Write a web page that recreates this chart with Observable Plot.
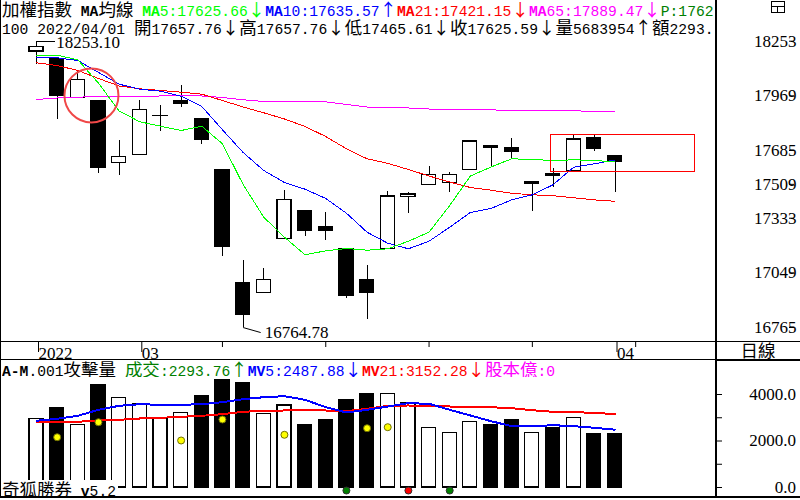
<!DOCTYPE html>
<html><head><meta charset="utf-8">
<script src="https://cdn.jsdelivr.net/npm/d3@7"></script>
<script src="https://cdn.jsdelivr.net/npm/@observablehq/plot@0.6"></script>
<style>
html,body{margin:0;padding:0;background:#fff;}
#root{position:relative;width:800px;height:500px;overflow:hidden;background:#fff;color:#000;}
.row{position:absolute;left:2px;white-space:nowrap;overflow:hidden;font-family:"Liberation Mono",monospace;font-size:14.67px;}
.cjk{font-family:"Noto Sans CJK TC",sans-serif;font-size:17.5px;}
.arr{display:inline-block;width:17.5px;text-align:center;font-family:"Noto Sans CJK TC",sans-serif;font-size:17px;}
.ln{position:absolute;background:#000;}
.pane{position:absolute;left:0;line-height:0;}
.vlab{position:absolute;left:716px;width:80px;height:17px;line-height:17px;text-align:right;font-family:"Liberation Serif",serif;font-size:17px;color:#000;z-index:10;white-space:nowrap;}
</style></head>
<body><div id="root">
<div class="row" id="hdr1" style="top:0;width:712px;height:18px;line-height:18px;"></div>
<div class="row" id="hdr2" style="top:18px;width:712px;height:18px;line-height:18px;"></div>
<div class="pane" id="price" style="top:36px;"></div>
<div class="row" id="hdr3" style="top:360px;width:712px;height:17px;line-height:17px;"></div>
<div id="dayLabel" style="position:absolute;left:716px;top:341px;width:84px;height:18px;line-height:18px;text-align:center;" class="cjk"></div>
<!-- frame lines -->
<div class="ln" style="left:0;top:0;width:1px;height:498px;"></div>
<div class="ln" style="left:715px;top:0;width:2px;height:498px;"></div>
<div class="ln" style="left:0;top:341px;width:800px;height:1px;"></div>
<div class="ln" style="left:0;top:359px;width:716px;height:1px;"></div>
<div class="ln" style="left:716px;top:359px;width:84px;height:2px;"></div>
<div class="ln" style="left:0;top:496px;width:800px;height:2px;"></div>
<!-- window icon -->
<div style="position:absolute;left:771px;top:1px;width:12px;height:10px;border:1px solid #000;"></div>
<div class="ln" style="left:771px;top:6px;width:13px;height:1px;"></div>
<div class="ln" style="left:777px;top:6px;width:1px;height:6px;"></div>
<div class="pane" id="vol" style="top:376px;z-index:5;"></div>
<div class="row" id="brand" style="top:480px;left:1px;padding-left:1px;padding-right:2px;height:16px;line-height:17px;background:#fff;z-index:6;"></div>
</div>
<script>
// ---------------- data ----------------
const open  = [18199.5, 18157.9, 17958.9, 17939.6, 17621.0, 17662.6, 17863.0, 17929.2, 17846.1, 17581.0, 16997.3, 16945.4, 17226.0, 17371.5, 17288.4, 17174.0, 17009.3, 17174.0, 17444.3, 17506.7, 17517.1, 17584.6, 17708.3, 17695.4, 17510.8, 17563.9, 17575.8, 17751.0, 17657.76];
const high  = [18253.1, 18160.0, 18100.8, 17942.0, 17736.9, 17944.8, 17917.3, 18022.8, 17848.0, 17583.0, 17113.2, 17070.1, 17477.0, 17373.0, 17362.7, 17176.0, 17087.2, 17471.9, 17468.2, 17603.4, 17569.0, 17736.9, 17709.0, 17745.8, 17519.0, 17589.8, 17764.5, 17762.9, 17657.76];
const low   = [18131.9, 17844.5, 17955.0, 17563.9, 17555.0, 17660.0, 17785.3, 17906.9, 17714.6, 17134.0, 16764.78, 16943.0, 17224.0, 17239.5, 17217.2, 16914.2, 16808.1, 17172.0, 17359.1, 17505.0, 17468.2, 17583.0, 17598.2, 17641.8, 17367.9, 17494.2, 17574.0, 17679.8, 17465.61];
const close = [18221.9, 17967.2, 18052.4, 17593.0, 17652.2, 17896.5, 17866.0, 17939.6, 17740.6, 17182.4, 16828.9, 17012.9, 17428.7, 17265.5, 17265.5, 16927.7, 16943.3, 17445.9, 17456.3, 17558.7, 17558.7, 17731.7, 17700.6, 17676.1, 17518.6, 17551.4, 17742.1, 17691.7, 17625.59];

const ma5  = [18178.7, 18180.3, 18156.4, 18034.8, 17890.3, 17834.1, 17811.3, 17788.9, 17811.3, 17719.8, 17508.2, 17338.3, 17234.3, 17142.9, 17163.6, 17175.6, 17166.8, 17174.0, 17213.5, 17260.3, 17399.1, 17552.4, 17599.2, 17641.8, 17638.2, 17633.0, 17636.6, 17633.0, 17625.66];
const ma10 = [18166.8, 18166.8, 18152.7, 18090.4, 18029.6, 18003.6, 17993.2, 17967.2, 17913.6, 17792.5, 17674.6, 17581.0, 17518.6, 17483.8, 17435.5, 17359.1, 17260.3, 17203.1, 17174.0, 17213.5, 17286.3, 17362.7, 17383.5, 17428.7, 17454.7, 17506.7, 17598.2, 17615.8, 17635.57];
const ma21 = [18140.8, 18126.7, 18100.8, 18059.2, 18020.2, 18005.6, 17996.8, 17988.0, 17977.6, 17944.8, 17911.0, 17880.9, 17848.7, 17809.7, 17757.7, 17693.8, 17641.8, 17618.4, 17586.2, 17552.4, 17521.2, 17492.7, 17478.6, 17462.5, 17454.7, 17450.0, 17439.1, 17428.2, 17421.15];
const ma65 = [17950.0, 17957.8, 17962.0, 17965.6, 17967.2, 17967.2, 17968.2, 17969.8, 17968.2, 17960.4, 17948.5, 17939.6, 17938.1, 17938.1, 17938.1, 17924.0, 17911.0, 17907.4, 17905.9, 17900.7, 17896.5, 17896.5, 17896.5, 17891.3, 17891.3, 17891.3, 17891.3, 17888.0, 17889.47];

const volume = [2954, 3398, 2696, 4387, 3858, 3570, 2954, 3213, 3914, 4602, 4473, 3170, 3527, 2667, 2882, 3742, 4000, 4029, 3627, 2566, 2351, 2824, 2667, 2882, 2351, 2538, 2996, 2280, 2293.76];
const mv5  = [2869, 2955, 3084, 3342, 3514, 3583, 3557, 3557, 3583, 3669, 3798, 3884, 3927, 3772, 3454, 3226, 3342, 3484, 3626, 3600, 3342, 3097, 2852, 2637, 2637, 2680, 2637, 2568, 2487.88];
const mv21 = [2796, 2809, 2826, 2882, 2912, 2968, 2998, 3041, 3084, 3153, 3256, 3299, 3312, 3312, 3312, 3282, 3385, 3514, 3527, 3514, 3484, 3454, 3454, 3411, 3325, 3256, 3239, 3213, 3152.28];

const buyIdx = [1, 3, 7, 9, 12, 16, 17];
const buyVal = [2163, 2809, 2022, 2925, 2267, 2551, 2594];
const sigIdx = [15, 18, 20];
const sigColor = ["#008000", "#ff0000", "#008000"];

const priceTicks = [18253, 17969, 17685, 17509, 17333, 17049, 16765];
const volTicks = [4000, 2000, 0];
const volMinorTicks = [1000, 3000];
const dateMajorIdx = [0, 5, 28];
const dateMajorLabels = ["2022", "03", "04"];
const dateMinorIdx = [9, 14, 19, 24, 29];

// annotations (data units: bar index, price)
const circleNote = [{i: 2.66, v: 17971}];
const boxNote = [{i1: 24.89, i2: 31.88, v1: 17574, v2: 17767}];

const header1 = [["加權指數 ", "#000"], ["MA", "#000", 1], ["均線 ", "#000"],
  ["MA", "#00ff00", 1], ["5:17625.66↓", "#00ff00"],
  ["MA", "#0000ff", 1], ["10:17635.57↑", "#0000ff"],
  ["MA", "#ff0000", 1], ["21:17421.15↓", "#ff0000"],
  ["MA", "#ff00ff", 1], ["65:17889.47↓", "#ff00ff"],
  ["P:17625.59", "#008000"]];
const header2 = [["100 2022/04/01 開17657.76↓高17657.76↓低17465.61↓收17625.59↓量5683954↑額2293.76", "#000"]];
const header3 = [["A-M", "#000", 1], [".001攻擊量 ", "#000"], ["成交:2293.76↑", "#008000"],
  ["MV", "#0000ff", 1], ["5:2487.88↓", "#0000ff"],
  ["MV", "#ff0000", 1], ["21:3152.28↓", "#ff0000"], ["股本億:0", "#ff00ff"]];
const brandText = [["奇狐勝券 ", "#000"], ["v", "#000", 1], ["5.2", "#000"]];
const dayText = "日線";

// ---------------- layout ----------------
const X0 = 36, X_LAST = 614.5, PANE_W = 716, FULL_W = 800;
const N = open.length;
const SP = (X_LAST - X0) / (N - 1);
const xDomain = [-X0 / SP, (PANE_W - X0) / SP];
const BODY = 0.34;
const SERIF = "Liberation Serif";

function wrapText(t) {
  return t.replace(/&/g, "&amp;").replace(/</g, "&lt;").replace(/ /g, "&nbsp;")
          .replace(/([\u2190-\u21FF])/g, '<span class="arr">$1</span>')
          .replace(/([\u2E80-\u9FFF\uF900-\uFFEF]+)/g, '<span class="cjk">$1</span>');
}
function fill(id, segs) {
  document.getElementById(id).innerHTML = segs.map(([t, c, b]) =>
    `<span style="color:${c};${b ? "font-weight:bold;" : ""}">${wrapText(t)}</span>`).join("");
}
fill("hdr1", header1); fill("hdr2", header2); fill("hdr3", header3); fill("brand", brandText);
document.getElementById("dayLabel").textContent = dayText;

const candles = d3.range(N).map(i => ({i, o: open[i], h: high[i], l: low[i], c: close[i], up: close[i] >= open[i]}));
const series = (arr) => arr.map((v, i) => ({i, v}));
const hiIdx = d3.maxIndex(high), loIdx = d3.minIndex(low);
const hiNote = [{i: hiIdx, v: high[hiIdx], t: high[hiIdx].toFixed(2)}];
const loNote = [{i: loIdx, v: low[loIdx], t: low[loIdx].toFixed(2)}];

const PRICE_H = 324, PRICE_BOTTOM = 18;
const yRange = [291, 4.7];
const pxPerPt = (yRange[0] - yRange[1]) / (priceTicks[0] - priceTicks[priceTicks.length - 1]);

const baseStyle = {background: "transparent", color: "#000", fontFamily: SERIF, fontSize: "17px", overflow: "visible", display: "block"};
const crisp = "crispEdges";

const pricePlot = Plot.plot({
  width: FULL_W, height: PRICE_H,
  marginLeft: 0, marginRight: FULL_W - PANE_W, marginTop: 0, marginBottom: PRICE_BOTTOM,
  x: {type: "linear", domain: xDomain, range: [0, PANE_W]},
  y: {domain: [priceTicks[priceTicks.length - 1], priceTicks[0]], range: yRange},
  style: baseStyle,
  marks: [
    Plot.ruleX(candles, {x: "i", y1: "l", y2: "h", stroke: "#000", strokeWidth: 1, shapeRendering: crisp}),
    Plot.rect(candles, {x1: d => d.i - BODY, x2: d => d.i + BODY, y1: "o", y2: "c",
      fill: d => d.up ? "#fff" : "#000", stroke: "#000", strokeWidth: 1.2, shapeRendering: crisp}),
    Plot.line(series(ma65), {x: "i", y: "v", stroke: "#ff00ff", strokeWidth: 1, shapeRendering: crisp}),
    Plot.line(series(ma21), {x: "i", y: "v", stroke: "#ff0000", strokeWidth: 1, shapeRendering: crisp}),
    Plot.line(series(ma10), {x: "i", y: "v", stroke: "#0000ff", strokeWidth: 1, shapeRendering: crisp}),
    Plot.line(series(ma5), {x: "i", y: "v", stroke: "#00ff00", strokeWidth: 1, shapeRendering: crisp}),
    // high / low labels
    Plot.link(hiNote, {x1: "i", x2: d => d.i + 0.9, y1: "v", y2: "v", stroke: "#000", strokeWidth: 1, shapeRendering: crisp}),
    Plot.text(hiNote, {x: d => d.i + 0.95, y: "v", text: "t", textAnchor: "start", dy: 1, fontFamily: SERIF, fontSize: 17, fill: "#000"}),
    Plot.link(loNote, {x1: "i", x2: d => d.i + 0.85, y1: "v", y2: d => d.v - 5 / pxPerPt, stroke: "#000", strokeWidth: 1}),
    Plot.text(loNote, {x: d => d.i + 1.05, y: d => d.v - 5 / pxPerPt, text: "t", textAnchor: "start", fontFamily: SERIF, fontSize: 17, fill: "#000"}),
    // annotations
    Plot.dot(circleNote, {x: "i", y: "v", r: 27, fill: "none", stroke: "#f04848", strokeWidth: 2}),
    Plot.rect(boxNote, {x1: "i1", x2: "i2", y1: "v1", y2: "v2", fill: "none", stroke: "#ff0000", strokeWidth: 1, shapeRendering: crisp}),
    // axes
    Plot.axisY({anchor: "right", ticks: priceTicks, tickSize: 5, tickPadding: 3, textAnchor: "end", dx: 72,
      tickFormat: d => String(d), label: null, fontFamily: SERIF, fontSize: 17}),
    Plot.axisX({anchor: "bottom", ticks: dateMinorIdx, tickSize: 5, tickFormat: () => "", label: null}),
    Plot.axisX({anchor: "bottom", ticks: dateMajorIdx, tickSize: 10, tickPadding: -6, textAnchor: "start", dx: 2,
      tickFormat: d => dateMajorLabels[dateMajorIdx.indexOf(d)], label: null, fontFamily: SERIF, fontSize: 17})
  ]
});
document.getElementById("price").appendChild(pricePlot);

// volume pane: value 0 sits 10px above the pane bottom, 4000 sits 18px below its top
const VOL_TOP = 376, VOL_H = 121, VOL_ZERO_PX = 111, VOL_4000_PX = 18;
const volPerPx = 4000 / (VOL_ZERO_PX - VOL_4000_PX);
const volDomain = [-(VOL_H - VOL_ZERO_PX) * volPerPx, 4000 + VOL_4000_PX * volPerPx];
const vols = d3.range(N).map(i => ({i, v: volume[i], up: close[i] >= open[i]}));
const buys = buyIdx.map((i, k) => ({i, v: buyVal[k]}));
const SIG_LEVEL = -130;
const sigs = sigIdx.map((i, k) => ({i, v: SIG_LEVEL, c: sigColor[k]}));

const volPlot = Plot.plot({
  width: FULL_W, height: VOL_H,
  marginLeft: 0, marginRight: FULL_W - PANE_W, marginTop: 0, marginBottom: 0,
  x: {type: "linear", domain: xDomain, range: [0, PANE_W], axis: null},
  y: {domain: volDomain, range: [VOL_H, 0]},
  color: {type: "identity"},
  style: baseStyle,
  marks: [
    Plot.rect(vols, {x1: d => d.i - BODY, x2: d => d.i + BODY, y1: 0, y2: "v",
      fill: d => d.up ? "#fff" : "#000", stroke: "#000", strokeWidth: 1.2, shapeRendering: crisp}),
    Plot.line(series(mv21), {x: "i", y: "v", stroke: "#ff0000", strokeWidth: 2, shapeRendering: crisp}),
    Plot.line(series(mv5), {x: "i", y: "v", stroke: "#0000ff", strokeWidth: 2, shapeRendering: crisp}),
    Plot.dot(buys, {x: "i", y: "v", r: 3.5, fill: "#ffff00", stroke: "#707000", strokeWidth: 1}),
    Plot.dot(sigs, {x: "i", y: "v", r: 3.5, fill: d => d.c, stroke: "#303030", strokeWidth: 1}),
    Plot.axisY({anchor: "right", ticks: volTicks.concat(volMinorTicks), tickSize: 5, tickFormat: () => "", label: null})
  ]
});
document.getElementById("vol").appendChild(volPlot);

// volume axis labels placed with the plot's own y scale
const yVol = volPlot.scale("y");
const rootEl = document.getElementById("root");
for (const v of volTicks) {
  const d = document.createElement("div");
  d.className = "vlab";
  d.style.top = (VOL_TOP + yVol.apply(v) - 8.5) + "px";
  d.textContent = v.toFixed(1);
  rootEl.appendChild(d);
}
</script>
</body></html>
